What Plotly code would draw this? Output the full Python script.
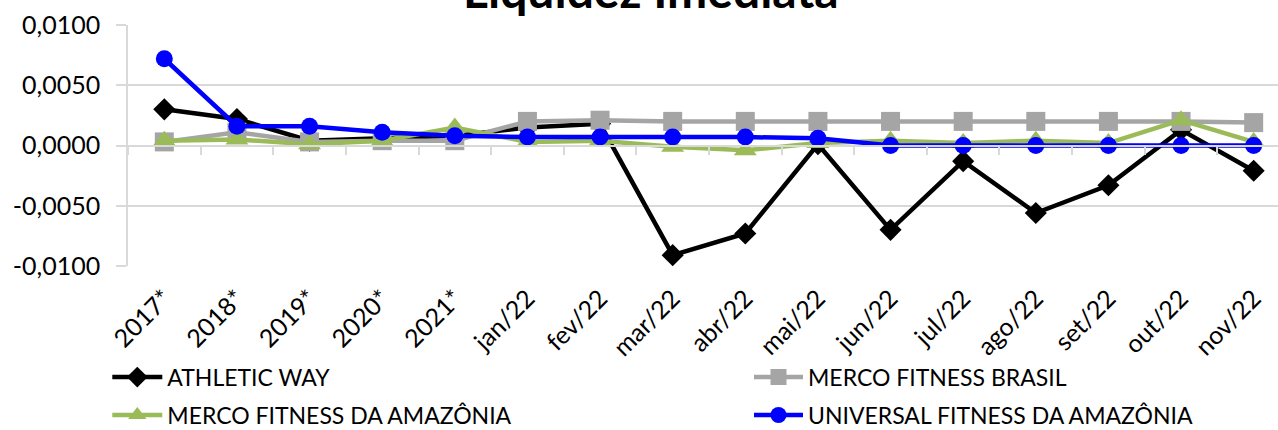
import plotly.graph_objects as go

categories = ["2017*", "2018*", "2019*", "2020*", "2021*", "jan/22", "fev/22", "mar/22",
              "abr/22", "mai/22", "jun/22", "jul/22", "ago/22", "set/22", "out/22", "nov/22"]

athletic_way = [0.0030, 0.0022, 0.0004, 0.0006, 0.0008, 0.0015, 0.0018, -0.0091,
                -0.0073, 0.0001, -0.0070, -0.0013, -0.0056, -0.0033, 0.0013, -0.0021]
merco_brasil = [0.0003, 0.0011, 0.0003, 0.0004, 0.0004, 0.0020, 0.0021, 0.0020,
                0.0020, 0.0020, 0.0020, 0.0020, 0.0020, 0.0020, 0.0020, 0.0019]
merco_amazonia = [0.0004, 0.0005, 0.0001, 0.0004, 0.0015, 0.0003, 0.0004, -0.0001,
                  -0.0004, 0.0002, 0.0004, 0.0002, 0.0004, 0.0002, 0.0021, 0.0003]
universal = [0.0072, 0.0016, 0.0016, 0.0011, 0.0008, 0.0007, 0.0007, 0.0007,
             0.0007, 0.0006, 0.0000, 0.0000, 0.0000, 0.0000, 0.0000, 0.0000]

y_tick_values = [0.01, 0.005, 0.0, -0.005, -0.01]
y_tick_labels = ["0,0100", "0,0050", "0,0000", "-0,0050", "-0,0100"]

title_text = "Liquidez Imediata"

FONT = "Lato"
GRID = "#d9d9d9"

series = [
    ("ATHLETIC WAY", athletic_way, "#000000", "diamond", 17, "legend"),
    ("MERCO FITNESS BRASIL", merco_brasil, "#A5A5A5", "square", 19, "legend2"),
    ("MERCO FITNESS DA AMAZÔNIA", merco_amazonia, "#9BBB59", "triangle-up", 20, "legend"),
    ("UNIVERSAL FITNESS DA AMAZÔNIA", universal, "#0000FF", "circle", 17, "legend2"),
]

fig = go.Figure()
for i, (name, vals, color, sym, size, leg) in enumerate(series):
    fig.add_trace(go.Scatter(
        x=categories, y=vals, name=name, mode="lines+markers",
        line=dict(color=color, width=4.5),
        marker=dict(symbol=sym, size=size, color=color),
        legend=leg, legendgroup=name, cliponaxis=False,
    ))

# zero-line axis with tick marks between categories
fig.add_trace(go.Scatter(x=categories, y=[None] * len(categories), xaxis="x2",
                         showlegend=False, hoverinfo="skip"))

x_range = [-0.5, 15.335]

fig.update_layout(
    width=1278, height=430,
    margin=dict(l=128, r=0, t=25, b=164, autoexpand=False),
    paper_bgcolor="white", plot_bgcolor="white",
    font=dict(family=FONT, color="black"),
    xaxis=dict(
        type="category", range=x_range, showgrid=False, zeroline=False,
        showline=False, ticks="", tickangle=-45, automargin=False,
        tickfont=dict(family=FONT, size=25, color="black"),
        ticklabelstandoff=12,
    ),
    xaxis2=dict(
        type="category", range=x_range, overlaying="x", anchor="free", position=0.5,
        showgrid=False, zeroline=False, showline=True, linecolor=GRID, linewidth=1.5,
        ticks="outside", tickson="boundaries", ticklen=9, tickcolor=GRID, tickwidth=1.5,
        showticklabels=False, automargin=False,
    ),
    yaxis=dict(
        range=[-0.01, 0.01], tickvals=y_tick_values, ticktext=y_tick_labels,
        showgrid=True, gridcolor=GRID, gridwidth=1.5, zeroline=False,
        showline=True, linecolor=GRID, linewidth=1.5, automargin=False,
        ticks="outside", ticklen=10, tickcolor=GRID, tickwidth=1.5,
        tickfont=dict(family=FONT, size=25, color="black"),
        ticklabelstandoff=11,
    ),
    legend=dict(
        x=-0.018, xanchor="left", y=-0.372, yanchor="top", orientation="v",
        font=dict(family=FONT, size=23, color="black"),
        itemwidth=50, tracegroupgap=5, bgcolor="rgba(0,0,0,0)",
    ),
    legend2=dict(
        x=0.540, xanchor="left", y=-0.372, yanchor="top", orientation="v",
        font=dict(family=FONT, size=23, color="black"),
        itemwidth=49, tracegroupgap=5, bgcolor="rgba(0,0,0,0)",
    ),
    annotations=[dict(
        text=title_text, xref="paper", yref="paper", x=0.4548, y=1.021,
        xanchor="center", yanchor="bottom", showarrow=False,
        font=dict(family=FONT, size=48, color="black", weight="bold"),
    )],
)

fig.write_html("out.html", config={"displayModeBar": False},
               post_script="document.body.style.margin='0';")
